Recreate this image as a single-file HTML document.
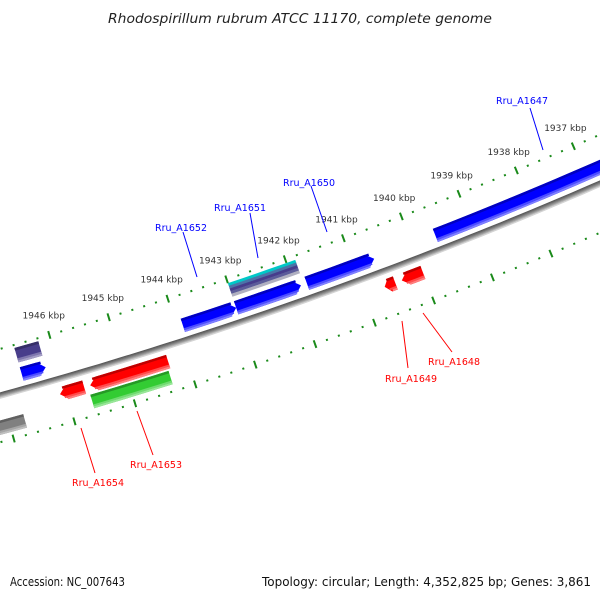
<!DOCTYPE html>
<html><head><meta charset="utf-8"><style>
html,body{margin:0;padding:0;background:#fff;}
svg{display:block;font-family:"DejaVu Sans","Liberation Sans",sans-serif;}
</style></head><body>
<svg id="map" width="600" height="600" viewBox="0 0 600 600" xmlns="http://www.w3.org/2000/svg">
<rect width="600" height="600" fill="#fff"/>
<text x="300" y="23" text-anchor="middle" font-size="13" font-style="italic" fill="#222" textLength="384" lengthAdjust="spacingAndGlyphs">Rhodospirillum rubrum ATCC 11170, complete genome</text>
<g id="ticks"></g>
<g id="backbone"></g>
<g id="features"></g>
<g id="labels"></g>
<text x="10" y="586" font-size="12" fill="#111" textLength="115" lengthAdjust="spacingAndGlyphs">Accession: NC_007643</text>
<text x="591" y="586" text-anchor="end" font-size="12" fill="#111" textLength="329" lengthAdjust="spacingAndGlyphs">Topology: circular; Length: 4,352,825 bp; Genes: 3,861</text>
</svg>
<script>
// data arrays
var tickKbp = [1946, 1945, 1944, 1943, 1942, 1941, 1940, 1939, 1938, 1937];
var tickLabels = ["1946 kbp","1945 kbp","1944 kbp","1943 kbp","1942 kbp","1941 kbp","1940 kbp","1939 kbp","1938 kbp","1937 kbp"];
var featNames = ["Rru_A1647","Rru_A1650","Rru_A1651","Rru_A1652","blue-small","purple-small","Rru_A1651-stack","Rru_A1653","Rru_A1654","green-1653","red-small","Rru_A1648","grey-left"];
var featStart = [1935.0, 1940.65, 1941.9, 1943.0, 1946.2, 1946.2, 1941.85, 1944.3, 1945.7, 1944.34, 1940.47, 1940.0, 1946.75];
var featEnd   = [1939.6, 1941.8, 1943.0, 1943.9, 1946.6, 1946.6, 1943.0, 1945.6, 1946.1, 1945.64, 1940.65, 1940.36, 1947.2];
var featStrand = [1, 1, 1, 1, 1, 0, 0, -1, -1, 0, -1, -1, 0];
var featRow = ["fwd","fwd","fwd","fwd","fwd","fwd2","stack","rev","rev","rev2","rev","rev","rev2"];
var featColor = ["#0000ff","#0000ff","#0000ff","#0000ff","#0000ff","#483d8b","#00c8c8","#ff0000","#ff0000","#33cc33","#ff0000","#ff0000","#808080"];
var geneLabels = ["Rru_A1647","Rru_A1650","Rru_A1651","Rru_A1652","Rru_A1648","Rru_A1649","Rru_A1653","Rru_A1654"];

// geometry
var CX=-1188, CY=-3924, R=4480;
var NS="http://www.w3.org/2000/svg";
function ang(k){return (73.8-(1946-k)*0.8)*Math.PI/180;}
function pt(k,r){var a=ang(k);return [CX+r*Math.cos(a),CY+r*Math.sin(a)];}
function mk(tag,attrs,parent){var e=document.createElementNS(NS,tag);for(var a in attrs)e.setAttribute(a,attrs[a]);parent.appendChild(e);return e;}
function arcPts(k1,k2,r,n){var o=[];for(var i=0;i<=n;i++){o.push(pt(k1+(k2-k1)*i/n,r));}return o;}
function ptsStr(a){return a.map(function(p){return p[0].toFixed(1)+","+p[1].toFixed(1);}).join(" ");}

// ticks
var tg=document.getElementById('ticks');
var ringR=[R-45,R+45];
for(var ri=0;ri<2;ri++){
  for(var k=1947.4;k>=1935.0;k-=0.2){
    var kk=Math.round(k*10)/10;
    var major=Math.abs(kk-Math.round(kk))<0.01;
    var hl=major?4:1;
    var p1=pt(kk,ringR[ri]-hl),p2=pt(kk,ringR[ri]+hl);
    var ln=mk('line',{x1:p1[0],y1:p1[1],x2:p2[0],y2:p2[1],stroke:'#1a8a1a','stroke-width':2},tg);
    
    
  }
}
for(var i=0;i<tickKbp.length;i++){
  var p=pt(tickKbp[i],R-65);
  var t=mk('text',{x:p[0],y:p[1]+3,'text-anchor':'middle','font-size':'9',fill:'#333'},tg);
  t.textContent=tickLabels[i];
  
  
}

// backbone
var bg=document.getElementById('backbone');
var bbCols=['#5a5a5a','#6a6a6a','#808080','#989898','#b4b4b4','#d4d4d4'];
for(var i=0;i<bbCols.length;i++){
  var pl=mk('polyline',{points:ptsStr(arcPts(1934,1948,R-2.5+i,80)),fill:'none',stroke:bbCols[i],'stroke-width':1.3},bg);
  
  
}

// features
var rows={fwd:[R-22,R-8],fwd2:[R-42,R-27],stack:[R-41,R-27],rev:[R+8,R+22],rev2:[R+24,R+38]};
function shade(c,f){var n=parseInt(c.slice(1),16);var r=n>>16,g=(n>>8)&255,b=n&255;
  function m(v){return Math.round(f<0?v*(1+f):v+(255-v)*f);}
  return 'rgb('+m(r)+','+m(g)+','+m(b)+')';}
function featPoly(k1,k2,rIn,rOut,strand){
  var head=Math.min(0.12,(k2-k1)*0.5), n=Math.max(2,Math.ceil((k2-k1)*4));
  var rm=(rIn+rOut)/2, pts=[];
  if(strand===1){
    pts=arcPts(k1+head,k2,rIn,n).concat(arcPts(k2,k1+head,rOut,n));
    pts.push(pt(k1,rm));
  }else if(strand===-1){
    pts=arcPts(k1,k2-head,rIn,n);
    pts.push(pt(k2,rm));
    pts=pts.concat(arcPts(k2-head,k1,rOut,n));
  }else{
    pts=arcPts(k1,k2,rIn,n).concat(arcPts(k2,k1,rOut,n));
  }
  return ptsStr(pts);
}
var fg=document.getElementById('features');
for(var i=0;i<featNames.length;i++){
  var g=mk('g',{},fg);
  
  
  var rr=rows[featRow[i]];
  var k1=featStart[i],k2=featEnd[i];
  if(featRow[i]==='stack'){
    var cols=['#00c8c8','#4a74a8','#463c8c','#5c5c9a','#b0b0c0'];
    var h=(rr[1]-rr[0])/cols.length;
    for(var j=0;j<cols.length;j++){
      mk('polygon',{points:featPoly(k1,k2,rr[0]+j*h,rr[0]+(j+1)*h+0.3,0),fill:cols[j]},g);
    }
    continue;
  }
  var th=rr[1]-rr[0];
  var a1=k1+(featStrand[i]===1?0.06:0), a2=k2-(featStrand[i]===-1?0.06:0);
  var b1=k1+(featStrand[i]===1?0.1:0), b2=k2-(featStrand[i]===-1?0.1:0);
  mk('polygon',{points:featPoly(k1,k2,rr[0],rr[1],featStrand[i]),fill:featColor[i]},g);
  mk('polygon',{points:featPoly(a1,a2,rr[0],rr[0]+th*0.18,0),fill:shade(featColor[i],-0.25)},g);
  mk('polygon',{points:featPoly(a1,a2,rr[0]+th*0.72,rr[0]+th*0.86,0),fill:shade(featColor[i],0.3)},g);
  mk('polygon',{points:featPoly(b1,b2,rr[0]+th*0.86,rr[1],0),fill:shade(featColor[i],0.5)},g);
}

// gene labels
var labPos=[[522,100,530,108,543,150,'#0000ff'],[309,182,311,186,327,232,'#0000ff'],[240,207,250,213,258,258,'#0000ff'],[181,227,183,232,197,277,'#0000ff'],
            [454,361,423,313,452,352,'#ff0000'],[411,378,402,321,408,368,'#ff0000'],[156,464,137,411,153,455,'#ff0000'],[98,482,81,428,95,473,'#ff0000']];
var lg=document.getElementById('labels');
for(var i=0;i<geneLabels.length;i++){
  var L=labPos[i];
  var ln=mk('line',{x1:L[2],y1:L[3],x2:L[4],y2:L[5],stroke:L[6],'stroke-width':1},lg);
  
  
  var t=mk('text',{x:L[0],y:L[1]+4,'text-anchor':'middle','font-size':'10',fill:L[6],textLength:'52',lengthAdjust:'spacingAndGlyphs'},lg);
  t.textContent=geneLabels[i];
  
  
}
</script>
</body></html>
